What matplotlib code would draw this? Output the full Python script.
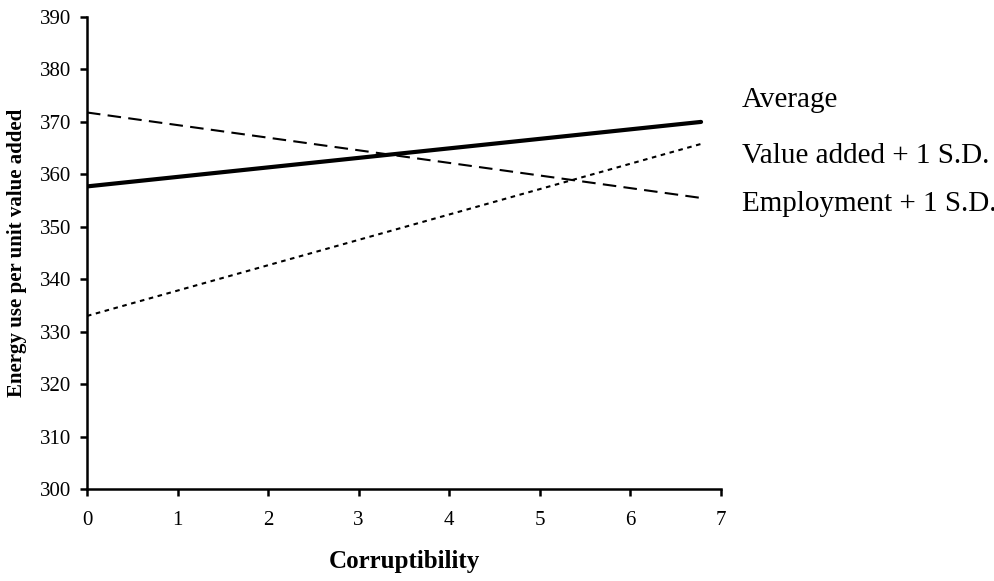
import matplotlib
matplotlib.use("Agg")
import matplotlib.pyplot as plt

# Predicted energy use per unit of value added against corruptibility
corruptibility = [0, 6.78]
average = [357.7, 370.0]
value_added_sd = [333.0, 365.8]
employment_sd = [371.8, 355.5]
labels = ["Average", "Value added + 1 S.D.", "Employment + 1 S.D."]

plt.rcParams['font.family'] = ['Liberation Serif', 'DejaVu Serif']

fig = plt.figure(figsize=(9.95, 5.81), dpi=100)
ax = fig.add_axes([0.0874, 0.1583, 0.6372, 0.8124])

ax.plot(corruptibility, average, color='black', lw=3.0, solid_capstyle='round')
ax.plot(corruptibility, value_added_sd, color='black', lw=1.5, dashes=(2.2, 2.2))
ax.plot(corruptibility, employment_sd, color='black', lw=1.5, dashes=(6.5, 3.5))

ax.set_xlim(0, 7)
ax.set_ylim(300, 390)
ax.set_xticks(range(0, 8))
ax.set_yticks(range(300, 391, 10))
for s in ['top', 'right']:
    ax.spines[s].set_visible(False)
for s in ['left', 'bottom']:
    ax.spines[s].set_linewidth(1.8)
ax.tick_params(direction='out', length=5, width=1.8, labelsize=15)
ax.tick_params(axis='y', pad=6)
ax.tick_params(axis='x', pad=11)

ax.set_xlabel('Corruptibility', fontsize=18, fontweight='bold', labelpad=14)
ax.set_ylabel('Energy use per unit value added', fontsize=15, fontweight='bold')
ax.yaxis.set_label_coords(-0.095, 0.5)

# series names beside the plot, no line samples
label_y = [107, 163, 211]
for name, yp in zip(labels, label_y):
    fig.text(742 / 995, 1 - yp / 581, name, fontsize=21, va='baseline', ha='left')

fig.savefig('out.png', dpi=100)
